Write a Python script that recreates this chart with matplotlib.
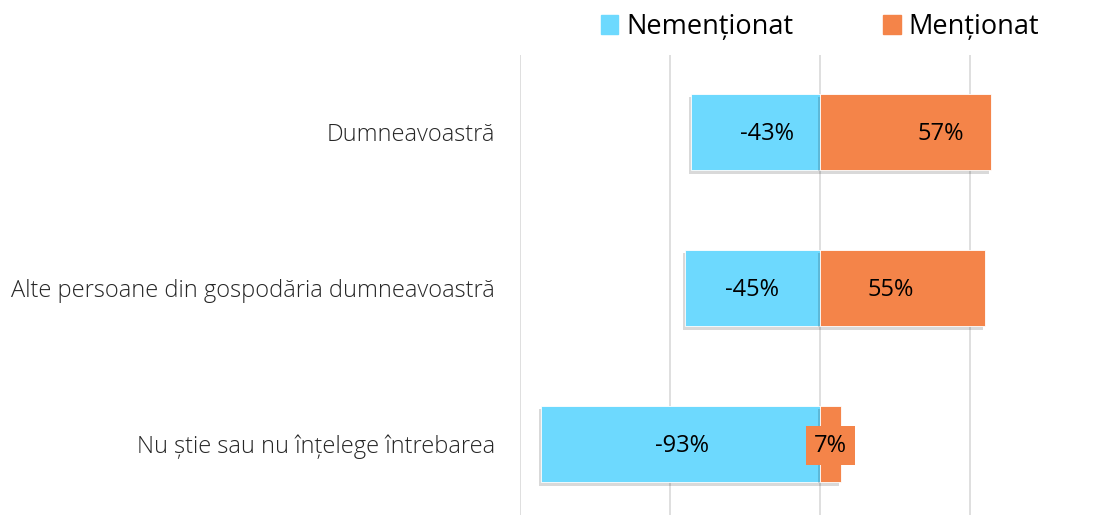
import matplotlib
matplotlib.use('Agg')
import matplotlib.pyplot as plt
import matplotlib.patheffects as pe

categories = ['Dumneavoastră', 'Alte persoane din gospodăria dumneavoastră',
              'Nu știe sau nu înțelege întrebarea']
nementionat = [-43, -45, -93]
mentionat = [57, 55, 7]
series_names = ['Nemenționat', 'Menționat']

# label x positions (data units), tuned to match the reference
neg_label_x = [-17.7, -22.7, -46]
pos_label_x = [40.3, 23.7, 3.5]

c_neg = '#6DD9FE'
c_pos = '#F48449'

plt.rcParams['font.family'] = ['Open Sans', 'DejaVu Sans']

fig = plt.figure(figsize=(11.07, 5.15), dpi=100)
ax = fig.add_axes([520 / 1107, 0, (1105 - 520) / 1107, (515 - 55) / 515])

y = range(len(categories))
shadow = [pe.SimplePatchShadow(offset=(-1.5, -2.5), shadow_rgbFace='#000000', alpha=0.15), pe.Normal()]
b1 = ax.barh(y, nementionat, height=0.49, color=c_neg, edgecolor='white', linewidth=0.6, zorder=3)
b2 = ax.barh(y, mentionat, height=0.49, color=c_pos, edgecolor='white', linewidth=0.6, zorder=3)
for b in list(b1) + list(b2):
    b.set_path_effects(shadow)

for i in y:
    ax.text(neg_label_x[i], i + 0.01, f'{nementionat[i]}%', ha='center', va='center',
            fontsize=17, fontweight='medium', color='black', zorder=5)
    if mentionat[i] < 10:
        ax.text(pos_label_x[i], i + 0.01, f'{mentionat[i]}%', ha='center', va='center',
                fontsize=17, fontweight='medium', color='black', zorder=5,
                bbox=dict(boxstyle='square,pad=0.33', fc=c_pos, ec='none'))
    else:
        ax.text(pos_label_x[i], i + 0.01, f'{mentionat[i]}%', ha='center', va='center',
                fontsize=17, fontweight='medium', color='black', zorder=5)

ax.set_xlim(-100, 95)
ax.set_ylim(2.455, -0.495)
ax.set_xticks([-100, -50, 0, 50])
ax.grid(axis='x', color='#D9D9D9', linewidth=1.2, zorder=0)
ax.tick_params(axis='both', length=0)
ax.set_xticklabels([])
ax.set_yticks(list(y))
ax.set_yticklabels(categories, fontsize=17, fontweight='light', color='#262626')
ax.tick_params(axis='y', pad=18)
for s in ax.spines.values():
    s.set_visible(False)

# legend
handles = [plt.Rectangle((0, 0), 1, 1, color=c_neg), plt.Rectangle((0, 0), 1, 1, color=c_pos)]
fig.legend(handles, series_names, loc='center', bbox_to_anchor=(820 / 1107, 1 - 27 / 515),
           ncol=2, frameon=False, handlelength=0.65, handleheight=0.65,
           handletextpad=0.3, columnspacing=3.3, prop={'size': 19.5})

fig.savefig('out.png', dpi=100)
